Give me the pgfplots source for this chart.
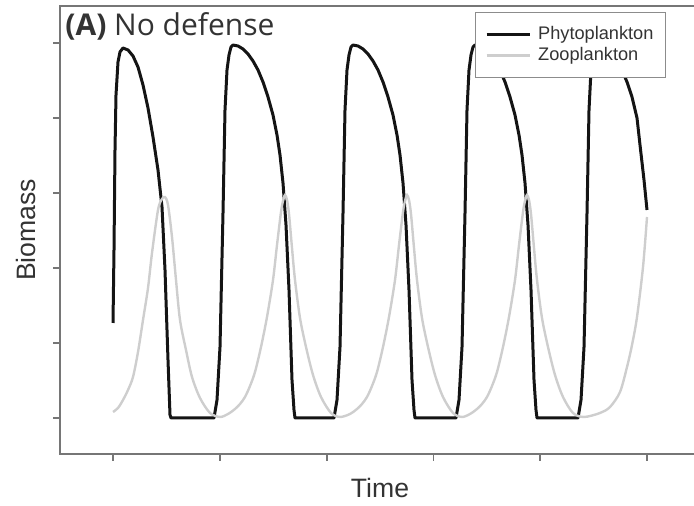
\documentclass[border=0pt]{standalone}
\usepackage{fontspec}
\setmainfont{Liberation Sans}
\newfontfamily\titlefont{Open Sans}
\usepackage{pgfplots}
\pgfplotsset{compat=1.18}
\definecolor{phyto}{HTML}{141414}
\definecolor{zoo}{HTML}{CECECE}
\definecolor{spine}{HTML}{767676}

\begin{document}
\begin{tikzpicture}
\useasboundingbox (-30pt,-26pt) rectangle (317pt,227pt);
\begin{axis}[
    at={(0pt,0pt)}, anchor=south west,
    scale only axis,
    width=320pt, height=224pt,
    xmin=-53, xmax=587,
    ymin=-36, ymax=412,
    xtick={0,106.8,213.6,320.4,427.2,534},
    ytick={0,75,150,225,300,375},
    xticklabels={}, yticklabels={},
    xtick pos=bottom, ytick pos=left,
    tick align=outside,
    major tick length=3.5pt,
    axis line style={spine, line width=0.9pt},
    every tick/.style={spine, line width=0.9pt},
    legend style={
        at={(axis description cs:0.947,0.987)}, anchor=north east,
        draw=black!45, line width=0.6pt, fill=white,
        font=\fontsize{9.1}{10.5}\selectfont, text=black!80,
        inner xsep=5pt, inner ysep=6pt,
        nodes={inner sep=1pt}, row sep=0.5pt,
        /tikz/every odd column/.append style={column sep=2.5pt},
    },
    legend cell align=left,
    legend image code/.code={\draw[#1] (0pt,0pt) -- (21.5pt,0pt);},
]

% phytoplankton
\addplot[phyto, line width=1.5pt, line join=round, no marks] coordinates {
    (0,95) (1,168) (2,268) (3,323) (5,356) (7,366) (10,370) (15,368)
    (20,362) (25,351) (30,333) (35,310) (40,281) (45,248) (49,211)
    (52,148) (55,58) (57,3) (58,0)
    (101,0) (104,18) (107,71) (110,205) (112,308) (114,348) (116,363) (118,371) (120,373)
    (125,372) (130,369) (135,364) (140,357) (145,348) (150,336) (155,321) (160,303)
    (164,283) (167,263) (170,235) (173,193) (176,128) (179,38) (181,8) (182,0)
    (221,0) (224,18) (227,71) (230,205) (232,308) (234,348) (236,363) (238,371) (240,373)
    (245,372) (250,369) (255,364) (260,357) (265,348) (270,336) (275,321) (280,303)
    (284,283) (287,263) (290,235) (293,193) (296,128) (299,38) (301,8) (302,0)
    (343,0) (346,18) (349,71) (352,205) (354,308) (356,348) (358,363) (360,371) (362,373)
    (367,372) (372,369) (377,364) (382,357) (387,348) (392,336) (397,321) (402,303)
    (406,283) (409,263) (412,235) (415,193) (418,128) (421,38) (423,8) (424,0)
    (465,0) (468,18) (471,71) (474,205) (476,308) (478,348) (480,363) (482,371) (484,373)
    (489,372) (494,369) (499,364) (504,357) (509,348) (514,336) (519,321) (524,300)
    (527,273) (531,238) (534,208)
};
\addlegendentry{Phytoplankton}

% zooplankton
\addplot[zoo, line width=1.2pt, smooth, tension=0.5, no marks] coordinates {
    (0,6) (5,10) (10,18) (15,28) (20,41) (25,66) (30,98) (35,130) (39,165)
    (45,208) (49,219) (52,221) (55,213) (59,181) (63,138) (67,98) (73,68)
    (79,41) (87,20) (97,5) (107,1)
    (115,4) (122,9) (127,14) (132,21) (137,32) (142,46) (148,71) (154,101)
    (160,138) (164,173) (168,206) (170,217) (172,223) (174,218) (176,204)
    (179,170) (182,138) (187,100) (193,71) (200,43) (208,21) (218,5) (227,1)
    (237,4) (244,9) (249,14) (254,21) (259,32) (264,46) (270,71) (276,101)
    (282,138) (286,173) (290,206) (292,217) (294,223) (296,218) (298,204)
    (301,170) (304,138) (309,100) (315,71) (322,43) (330,21) (340,5) (349,1)
    (357,4) (364,9) (369,14) (374,21) (379,32) (384,46) (390,71) (396,101)
    (402,138) (406,173) (410,206) (412,217) (414,223) (416,218) (418,204)
    (421,170) (424,138) (429,100) (435,71) (442,43) (450,21) (460,5) (471,1)
    (487,5) (497,11) (507,26) (514,51) (519,73) (524,101) (530,151) (534,201)
};
\addlegendentry{Zooplankton}
\end{axis}

\node[rotate=90, anchor=base, font=\fontsize{13.3}{15}\selectfont, text=black!80]
    at (-12.5pt,112pt) {Biomass};
\node[anchor=base, font=\fontsize{13.3}{15}\selectfont, text=black!80]
    at (160pt,-22pt) {Time};
\node[anchor=base west, inner sep=0pt, font=\titlefont\fontsize{15}{17}\selectfont, text=black!80]
    at (2.5pt,209pt) {\textbf{(A)} No defense};
\end{tikzpicture}
\end{document}
